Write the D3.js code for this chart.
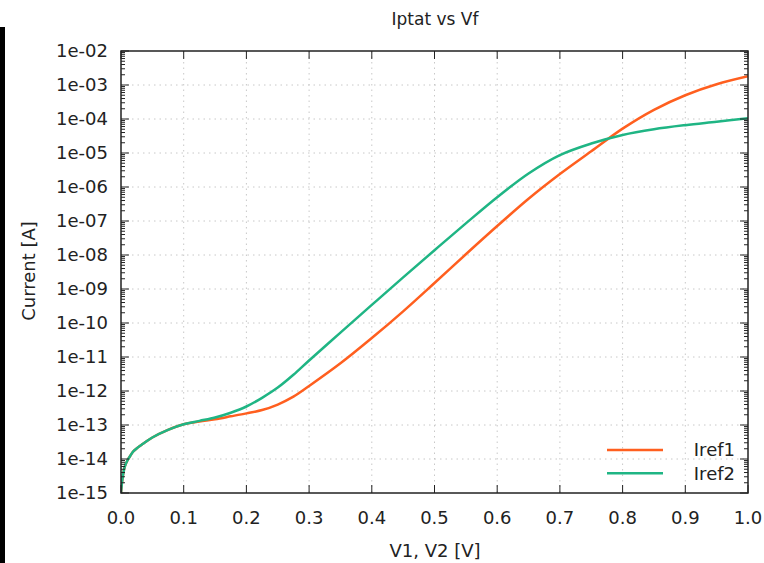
<!DOCTYPE html>
<html><head><meta charset="utf-8">
<script src="https://cdn.jsdelivr.net/npm/d3@7"></script>
<style>
body{margin:0;background:#fff;}
svg{display:block;font-family:"DejaVu Sans",sans-serif;}
</style></head>
<body><svg id="c" width="764" height="563"></svg>
<script>
const title = "Iptat vs Vf";
const xLabel = "V1, V2 [V]";
const yLabel = "Current [A]";
const xTicks = [0,0.1,0.2,0.3,0.4,0.5,0.6,0.7,0.8,0.9,1.0];
const yTickExps = [-2,-3,-4,-5,-6,-7,-8,-9,-10,-11,-12,-13,-14,-15];
const seriesNames = ["Iref1","Iref2"];
const seriesColors = ["#ff5f1f","#1fb584"];

const v1 = [0,0.001,0.003,0.006,0.01,0.015,0.02,0.027,0.035,0.05,0.075,0.1,0.125,0.15,0.175,0.2,0.225,0.25,0.275,0.3,0.35,0.4,0.45,0.5,0.55,0.6,0.65,0.7,0.75,0.8,0.85,0.9,0.95,1.0];
const iref1 = [1e-15,1.6e-15,3.2e-15,6.0e-15,8.9e-15,1.26e-14,1.7e-14,2.2e-14,2.8e-14,4.3e-14,7.2e-14,1.05e-13,1.26e-13,1.48e-13,1.8e-13,2.2e-13,2.75e-13,4.0e-13,6.8e-13,1.4e-12,6.5e-12,3.6e-11,2.2e-10,1.5e-9,1.05e-8,7.1e-8,4.5e-7,2.4e-6,1.12e-5,5.2e-5,1.86e-4,5.0e-4,1.05e-3,1.8e-3];
const iref2 = [1e-15,1.6e-15,3.2e-15,6.0e-15,8.9e-15,1.26e-14,1.7e-14,2.2e-14,2.8e-14,4.3e-14,7.2e-14,1.05e-13,1.32e-13,1.66e-13,2.3e-13,3.5e-13,6.3e-13,1.26e-12,3.0e-12,7.9e-12,5.2e-11,3.4e-10,2.2e-9,1.38e-8,8.5e-8,5.0e-7,2.5e-6,8.7e-6,1.9e-5,3.4e-5,5.0e-5,6.6e-5,8.3e-5,1.05e-4];

const svg = d3.select("#c");
const L=121,R=748,T=51,B=493;
const x = d3.scaleLinear().domain([0,1]).range([L,R]);
const y = d3.scaleLog().domain([1e-15,1e-2]).range([B,T]);
const ink="#222";

// left decorative bar
svg.append("rect").attr("x",0).attr("y",27).attr("width",5).attr("height",536).attr("fill","#000");

// grid
const g = svg.append("g");
xTicks.slice(1,-1).forEach(t=>g.append("line").attr("x1",x(t)).attr("x2",x(t)).attr("y1",T).attr("y2",B)
  .attr("stroke","#c8c8c8").attr("stroke-width",1).attr("stroke-dasharray","1.5,4"));
yTickExps.slice(1,-1).forEach(e=>g.append("line").attr("x1",L).attr("x2",R).attr("y1",y(Math.pow(10,e))).attr("y2",y(Math.pow(10,e)))
  .attr("stroke","#c8c8c8").attr("stroke-width",1).attr("stroke-dasharray","1.5,4"));

// curves
const line = d3.line().x(d=>x(d[0])).y(d=>y(d[1])).curve(d3.curveCatmullRom.alpha(0.5));
svg.append("clipPath").attr("id","cp").append("rect").attr("x",L).attr("y",T).attr("width",R-L).attr("height",B-T);
[iref1,iref2].forEach((s,i)=>{
  svg.append("path").attr("d",line(v1.map((v,j)=>[v,s[j]]))).attr("fill","none")
    .attr("stroke",seriesColors[i]).attr("stroke-width",2.5).attr("clip-path","url(#cp)");
});

// axes with ticks inward
const major = yTickExps.map(e=>Math.pow(10,e));
const minor = [];
for(let e=-15;e<-2;e++) for(let k=2;k<=9;k++) minor.push(k*Math.pow(10,e));
const ax = svg.append("g").attr("stroke",ink).attr("stroke-width",1);
major.forEach(v=>{
  ax.append("line").attr("x1",L).attr("x2",L+8).attr("y1",y(v)).attr("y2",y(v));
  ax.append("line").attr("x1",R).attr("x2",R-8).attr("y1",y(v)).attr("y2",y(v));
});
minor.forEach(v=>{
  ax.append("line").attr("x1",L).attr("x2",L+4).attr("y1",y(v)).attr("y2",y(v));
  ax.append("line").attr("x1",R).attr("x2",R-4).attr("y1",y(v)).attr("y2",y(v));
});
xTicks.forEach(t=>{
  ax.append("line").attr("x1",x(t)).attr("x2",x(t)).attr("y1",B).attr("y2",B-8);
  ax.append("line").attr("x1",x(t)).attr("x2",x(t)).attr("y1",T).attr("y2",T+8);
});
svg.append("rect").attr("x",L).attr("y",T).attr("width",R-L).attr("height",B-T)
  .attr("fill","none").attr("stroke",ink).attr("stroke-width",1.5);

// tick labels
const fs=18;
yTickExps.forEach(e=>{
  const lab = "1e-" + String(-e).padStart(2,"0");
  svg.append("text").attr("x",108).attr("y",y(Math.pow(10,e))).attr("dy","0.36em")
    .attr("text-anchor","end").attr("font-size",fs).attr("fill",ink).text(lab);
});
xTicks.forEach(t=>{
  svg.append("text").attr("x",x(t)).attr("y",524).attr("text-anchor","middle")
    .attr("font-size",fs).attr("fill",ink).text(t.toFixed(1));
});

// titles
svg.append("text").attr("x",435).attr("y",25).attr("text-anchor","middle").attr("font-size",17).attr("fill",ink).text(title);
svg.append("text").attr("x",435).attr("y",557).attr("text-anchor","middle").attr("font-size",18).attr("fill",ink).text(xLabel);
svg.append("text").attr("transform","translate(35,271) rotate(-90)").attr("text-anchor","middle").attr("font-size",18).attr("fill",ink).text(yLabel);

// legend
seriesNames.forEach((n,i)=>{
  const ly = 450 + i*23.3;
  svg.append("line").attr("x1",607).attr("x2",663).attr("y1",ly).attr("y2",ly).attr("stroke",seriesColors[i]).attr("stroke-width",2.5);
  svg.append("text").attr("x",735).attr("y",ly).attr("dy","0.36em").attr("text-anchor","end").attr("font-size",fs).attr("fill",ink).text(n);
});
</script></body></html>
